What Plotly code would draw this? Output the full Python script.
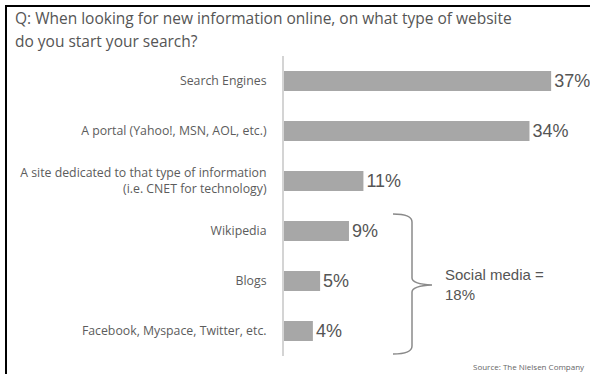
import plotly.graph_objects as go

categories = [
    "Search Engines",
    "A portal (Yahoo!, MSN, AOL, etc.)",
    "A site dedicated to that type of information<br>(i.e. CNET for technology)",
    "Wikipedia",
    "Blogs",
    "Facebook, Myspace, Twitter, etc.",
]
values = [37, 34, 11, 9, 5, 4]
value_labels = ["37%", "34%", "11%", "9%", "5%", "4%"]

title_lines = ["Q: When looking for new information online, on what type of website",
               "do you start your search?"]
group_note = "Social media =<br>18%"
source_note = "Source: The Nielsen Company"

W, H = 590, 374
L, R, T, B = 284, 6, 56, 18
PW, PH = W - L - R, H - T - B
XMAX = PW / 7.22

def px(xp):
    return (xp - L) / PW

def py(yp):
    return (H - B - yp) / PH

fig = go.Figure(go.Bar(
    y=categories, x=values, orientation="h",
    marker=dict(color="#a7a7a7", line=dict(width=0)),
    width=0.4,
    text=value_labels, textposition="outside",
    textfont=dict(family="Arial", size=18, color="#555555"),
    constraintext="none", cliponaxis=False,
))

# bracket (curly brace) for social media group
bx0, bx1, bx2 = px(393), px(412), px(432)
yt, ym, yb = py(214), py(285), py(354)
path = (f"M {bx0},{yt} Q {bx1},{yt} {bx1},{py(222)} L {bx1},{py(278)} "
        f"Q {bx1},{py(284)} {bx2},{ym} Q {bx1},{py(286)} {bx1},{py(292)} "
        f"L {bx1},{py(346)} Q {bx1},{yb} {bx0},{yb}")

shapes = [
    dict(type="path", xref="paper", yref="paper", path=path,
         line=dict(color="#8a8a8a", width=1.5)),
    dict(type="line", xref="paper", yref="paper", x0=px(5), x1=px(590), y0=py(6), y1=py(6),
         line=dict(color="black", width=2)),
    dict(type="line", xref="paper", yref="paper", x0=px(6), x1=px(6), y0=py(5), y1=py(374),
         line=dict(color="black", width=2)),
]

annotations = [
    dict(xref="paper", yref="paper", x=px(13), y=py(18), text=title_lines[0],
         showarrow=False, xanchor="left", yanchor="middle",
         font=dict(family="Open Sans", size=15.5, color="#555555")),
    dict(xref="paper", yref="paper", x=px(13), y=py(41), text=title_lines[1],
         showarrow=False, xanchor="left", yanchor="middle",
         font=dict(family="Open Sans", size=15.5, color="#555555")),
    dict(xref="paper", yref="paper", x=px(443), y=py(284), text=group_note,
         showarrow=False, xanchor="left", yanchor="middle", align="left",
         font=dict(family="Arial", size=15, color="#555555")),
    dict(xref="paper", yref="paper", x=px(587), y=py(366), text=source_note,
         showarrow=False, xanchor="right", yanchor="middle",
         font=dict(family="Open Sans", size=8, color="#666666")),
]

fig.update_layout(
    width=W, height=H,
    margin=dict(l=L, r=R, t=T, b=B, pad=0),
    paper_bgcolor="white", plot_bgcolor="white",
    showlegend=False,
    xaxis=dict(range=[0, XMAX], visible=False, showgrid=False, zeroline=False),
    yaxis=dict(autorange="reversed", showgrid=False, zeroline=False,
               showline=True, linecolor="#d4d4d4", linewidth=2,
               ticks="", ticklabelstandoff=13,
               tickfont=dict(family="Open Sans", size=12.3, color="#5c5c5c")),
    shapes=shapes, annotations=annotations,
    bargap=0.6,
)

fig.write_html("out.html")
